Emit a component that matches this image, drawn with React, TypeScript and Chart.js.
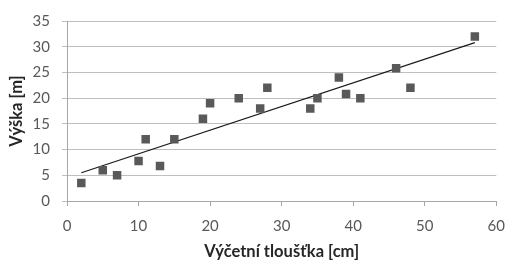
import React, { useEffect, useRef } from "react";
import { Chart, registerables } from "chart.js";

Chart.register(...registerables);

const diameters = [2, 5, 7, 10, 11, 13, 15, 19, 20, 24, 27, 28, 34, 35, 38, 39, 41, 46, 48, 57];
const heights = [3.5, 6, 5, 7.8, 12, 6.8, 12, 16, 19, 20, 18, 22, 18, 20, 24, 20.8, 20, 25.8, 22, 32];
const trendX = [2, 57];
const trendY = [5.5, 30.8];
const xTitle = "Výčetní tloušťka [cm]";
const yTitle = "Výška [m]";

const FONT = "Lato, 'Open Sans', sans-serif";

export default function App() {
  const ref = useRef<HTMLCanvasElement | null>(null);
  useEffect(() => {
    if (!ref.current) return;
    const chart = new Chart(ref.current, {
      type: "scatter",
      data: {
        datasets: [
          {
            label: "data",
            data: diameters.map((x, i) => ({ x, y: heights[i] })),
            pointStyle: "rect",
            pointRadius: 6,
            backgroundColor: "#595959",
            borderColor: "#595959",
            borderWidth: 0,
            showLine: false,
          },
          {
            label: "trend",
            data: trendX.map((x, i) => ({ x, y: trendY[i] })),
            showLine: true,
            pointRadius: 0,
            borderColor: "#1a1a1a",
            borderWidth: 1.2,
            fill: false,
          },
        ],
      },
      options: {
        responsive: false,
        animation: false,
        layout: { padding: { left: 7, right: 11, top: 19, bottom: 0 } },
        plugins: { legend: { display: false }, tooltip: { enabled: false } },
        scales: {
          x: {
            type: "linear",
            min: 0,
            max: 60,
            ticks: { stepSize: 10, color: "#595959", font: { family: FONT, size: 15 }, padding: 11 },
            grid: { drawOnChartArea: false, drawTicks: true, tickLength: 5, color: "#a6a6a6" },
            border: { color: "#a6a6a6" },
            title: {
              display: true,
              text: xTitle,
              color: "#262626",
              font: { family: FONT, size: 16.5, weight: "bold" },
              padding: { top: 0, bottom: -2 },
            },
            afterFit: (s: any) => {
              s.height = 59;
            },
          },
          y: {
            type: "linear",
            min: 0,
            max: 35,
            ticks: { stepSize: 5, color: "#595959", font: { family: FONT, size: 15 }, padding: 12 },
            grid: { color: "#bfbfbf", tickLength: 5 },
            border: { color: "#a6a6a6" },
            title: {
              display: true,
              text: yTitle,
              color: "#262626",
              font: { family: FONT, size: 16.5, weight: "bold" },
              padding: { top: 0, bottom: 0 },
            },
            afterFit: (s: any) => {
              s.width = 60;
            },
          },
        },
      },
    });
    return () => chart.destroy();
  }, []);
  return (
    <div style={{ position: "absolute", left: 0, top: 0, width: 516, height: 260, background: "#fff" }}>
      <canvas ref={ref} width={516} height={260} />
    </div>
  );
}
